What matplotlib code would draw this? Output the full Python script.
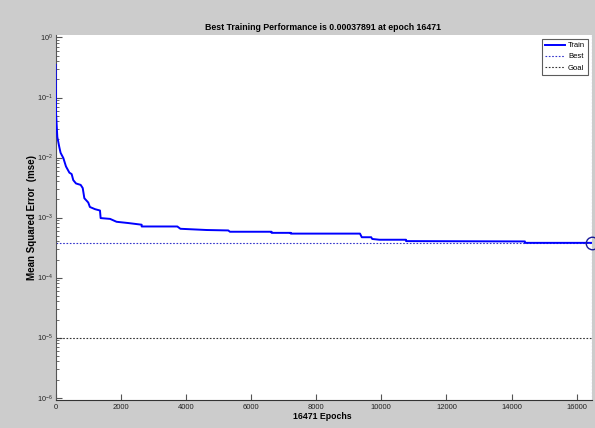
import matplotlib
matplotlib.use("Agg")
import matplotlib.pyplot as plt
from matplotlib.ticker import LogLocator, FixedLocator, NullFormatter

# ---- data ----
epochs = [0, 10, 50, 110, 150, 235, 316, 420, 490, 540, 623, 767, 830, 880,
          1000, 1050, 1207, 1360, 1380, 1670, 1870, 2230, 2640, 2640, 3735,
          3830, 4640, 5300, 5350, 6630, 6630, 7220, 7220, 9345, 9400, 9690,
          9720, 9940, 10760, 10760, 14410, 14410, 16471]
mse = [0.35, 0.055, 0.022, 0.015, 0.012, 0.0098, 0.0071, 0.0056, 0.0053,
       0.0042, 0.0037, 0.0035, 0.0031, 0.0021, 0.00178, 0.0015, 0.00138,
       0.00131, 0.00098, 0.00095, 0.00085, 0.00081, 0.00076, 0.00071,
       0.00071, 0.00065, 0.00062, 0.00061, 0.00058, 0.00058, 0.000556,
       0.000556, 0.00054, 0.00054, 0.00047, 0.00047, 0.00044, 0.000427,
       0.000427, 0.000405, 0.000400, 0.00037891, 0.00037891]
best_epoch = 16471
best_perf = 0.00037891
goal = 1e-5
title = "Best Training Performance is 0.00037891 at epoch 16471"
xlabel = "16471 Epochs"
ylabel = "Mean Squared Error  (mse)"
xticks = [0, 2000, 4000, 6000, 8000, 10000, 12000, 14000, 16000]
yticks = [1e-6, 1e-5, 1e-4, 1e-3, 1e-2, 1e-1, 1e0]

plt.rcParams['font.family'] = ['Liberation Sans', 'DejaVu Sans']
plt.rcParams['axes.unicode_minus'] = False

fig = plt.figure(figsize=(5.95, 4.28), dpi=100, facecolor='#cccccc')
ax = fig.add_axes([0.0936, 0.0654, 0.9014, 0.8526])
ax.set_facecolor('white')

ax.plot(epochs, mse, color='#0000ff', lw=1.4, label='Train', zorder=3)
ax.axhline(best_perf, color='#3333cc', lw=0.8, ls=(0, (1.5, 1.5)), label='Best', zorder=2)
ax.axvline(best_epoch, color='#3333cc', lw=0.8, ls=(0, (1.5, 1.5)), zorder=2)
ax.axhline(goal, color='#333333', lw=0.8, ls=(0, (1.5, 1.5)), label='Goal', zorder=2)
ax.plot([best_epoch], [best_perf], marker='o', ms=9, mfc='none', mec='#1a1a99', mew=1.0,
        clip_on=False, zorder=4)

ax.set_yscale('log')
ax.set_xlim(0, best_epoch)
ax.set_ylim(10 ** -6.04, 10 ** 0.04)
ax.xaxis.set_major_locator(FixedLocator(xticks))
ax.yaxis.set_major_locator(FixedLocator(yticks))
ax.yaxis.set_minor_locator(LogLocator(base=10, subs=range(2, 10)))
ax.yaxis.set_minor_formatter(NullFormatter())

for s in ['top', 'right']:
    ax.spines[s].set_visible(False)
ax.spines['left'].set_color('#555555')
ax.spines['bottom'].set_color('#333333')
ax.tick_params(axis='both', which='both', direction='in', colors='#555555',
               labelcolor='#222222', labelsize=5.5, top=False, right=False)
ax.tick_params(axis='y', labelsize=5.2)
ax.tick_params(axis='both', which='major', length=4, width=0.8)
ax.tick_params(axis='y', which='minor', length=2, width=0.6)
ax.tick_params(axis='x', pad=3)
ax.tick_params(axis='y', pad=2)

fig.text(323 / 595, 1 - 27 / 428, title, fontsize=6.3, fontweight='bold',
         ha='center', va='center')
ax.set_xlabel(xlabel, fontsize=6.3, fontweight='bold', va='center')
ax.xaxis.set_label_coords(0.497, -0.046)
ax.set_ylabel(ylabel, fontsize=7, fontweight='bold', va='center')
ax.yaxis.set_label_coords(-0.045, 0.5)

leg = ax.legend(loc='upper right', fontsize=5.5, frameon=True, fancybox=False,
                edgecolor='#333333', handlelength=2.6, handletextpad=0.4,
                borderpad=0.4, labelspacing=0.5, borderaxespad=0.5)
leg.get_frame().set_linewidth(0.8)

fig.savefig('out.png', dpi=100, facecolor=fig.get_facecolor())
